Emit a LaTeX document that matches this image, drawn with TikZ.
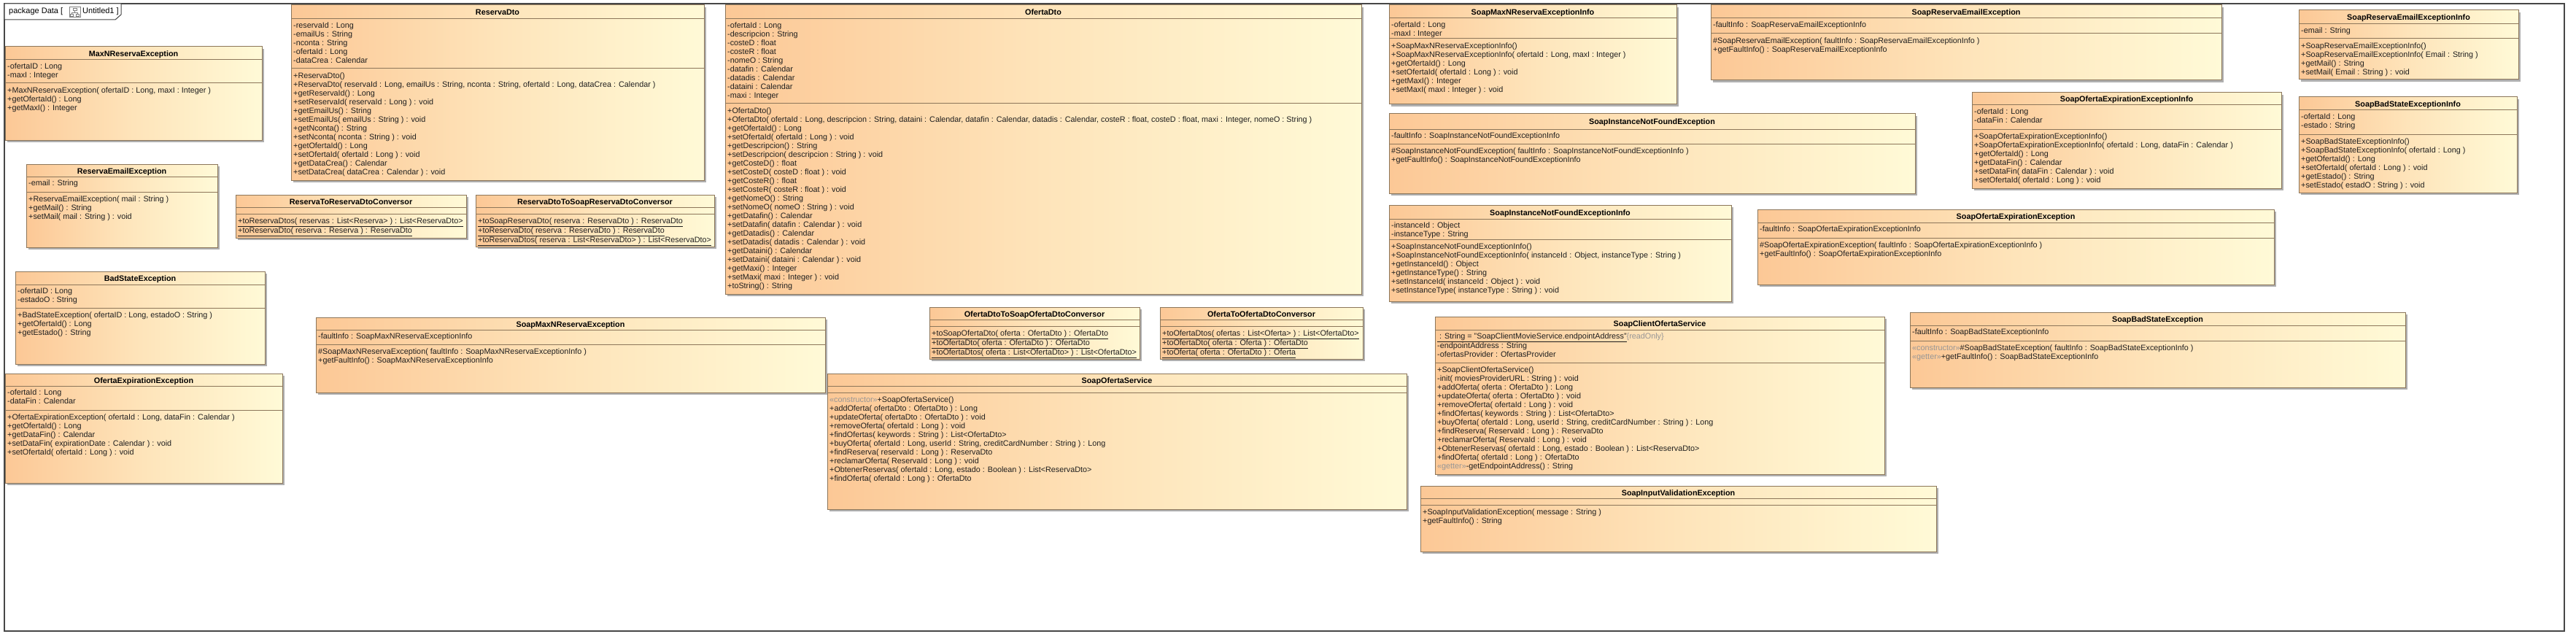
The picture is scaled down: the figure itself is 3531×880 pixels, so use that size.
\documentclass[tikz,border=0pt]{standalone}
\usepackage{fontspec}
\setmainfont{Liberation Sans}
\usetikzlibrary{shadows}
\definecolor{uL}{RGB}{252,200,150}
\definecolor{uM}{RGB}{254,228,186}
\definecolor{uR}{RGB}{255,250,215}
\definecolor{ubord}{RGB}{140,118,90}
\definecolor{utxt}{RGB}{30,30,30}
\definecolor{ustereo}{RGB}{150,150,150}
\definecolor{ushadow}{RGB}{175,175,175}
\definecolor{uframe}{RGB}{70,70,70}
\newcommand\st[1]{\textcolor{ustereo}{#1}}
\newcommand\ls{\rule{0pt}{9pt}}
\tikzset{
 ubox/.style={draw=ubord, line width=1pt, left color=uL, right color=uR, middle color=uM, inner sep=0pt,
   drop shadow={shadow xshift=3pt, shadow yshift=-3pt, fill=ushadow, opacity=1}},
 udiv/.style={draw=ubord, line width=1pt},
 utitle/.style={font=\fontsize{10.8}{12}\selectfont\bfseries, text=black, inner sep=0pt, text height=8pt, text depth=0pt},
 utext/.style={anchor=north west, align=left, inner sep=0pt, font=\fontsize{10.8}{12}\selectfont, text=utxt},
 ptext/.style={anchor=base west, inner sep=0pt, font=\fontsize{11}{13}\selectfont, text=black},
}
\newcommand\uclass[9]{%
 \node[ubox, minimum width={#4-#2}, minimum height={#5-#3}] (#1) at ({(#2+#4)/2},{(#3+#5)/2}) {};
 \draw[udiv] (#2,#6) -- (#4,#6) (#2,#7) -- (#4,#7);
 \node[utitle] (#1-t) at ({(#2+#4)/2},{(#3+#6)/2+0.5}) {#8};
 \node[utext] (#1-a) at (#2+3,#6+3) {\ls#9};
 \coordinate (#1-oc) at (#2+3,#7+4);
}
\newcommand\uops[2]{\node[utext] (#1-o) at (#1-oc) {\ls#2};}
\begin{document}
\begin{tikzpicture}[x=1pt,y=-1pt]
\fill[white] (0,0) rectangle (3531,880);
\useasboundingbox (0,0) rectangle (3531,880);
% frame and package tab
\draw[uframe, line width=1.5pt] (6,5) rectangle (3515,865);
\draw[uframe, line width=1pt, fill=white] (6,5) -- (166,5) -- (166,20) -- (158,27) -- (6,27) -- cycle;
\node[ptext] (pkgA) at (12,18.5) {package Data [};
\node[draw=gray, fill=white, line width=0.6pt, minimum width=15pt, minimum height=14pt, inner sep=0pt] (pkgI) at (102.5,16.5) {};
\draw[gray, line width=0.6pt] (100,11) rectangle (105,14) (96,19) rectangle (100,22) (104,19) rectangle (108,22)
  (102.5,14) -- (102.5,17) -- (98,17) -- (98,19) (102.5,17) -- (106,17) -- (106,19);
\node[ptext] (pkgB) at (113,18.5) {Untitled1 ]};

\uclass{maxn}{7}{64}{359}{192}{82}{114}{MaxNReservaException}{-ofertaID : Long\\-maxI : Integer}
\uops{maxn}{+MaxNReservaException( ofertaID : Long, maxI : Integer )\\+getOfertaId() : Long\\+getMaxI() : Integer}

\uclass{remail}{36}{225}{298}{339}{242}{263}{ReservaEmailException}{-email : String}
\uops{remail}{+ReservaEmailException( mail : String )\\+getMail() : String\\+setMail( mail : String ) : void}

\uclass{bads}{21}{372}{363}{499}{390}{422}{BadStateException}{-ofertaID : Long\\-estadoO : String}
\uops{bads}{+BadStateException( ofertaID : Long, estadoO : String )\\+getOfertaId() : Long\\+getEstado() : String}

\uclass{ofexp}{7}{512}{387}{662}{529}{562}{OfertaExpirationException}{-ofertaId : Long\\-dataFin : Calendar}
\uops{ofexp}{+OfertaExpirationException( ofertaId : Long, dataFin : Calendar )\\+getOfertaId() : Long\\+getDataFin() : Calendar\\+setDataFin( expirationDate : Calendar ) : void\\+setOfertaId( ofertaId : Long ) : void}

\uclass{rdto}{399}{7}{965}{247}{26}{94}{ReservaDto}{-reservaId : Long\\-emailUs : String\\-nconta : String\\-ofertaId : Long\\-dataCrea : Calendar}
\uops{rdto}{+ReservaDto()\\+ReservaDto( reservaId : Long, emailUs : String, nconta : String, ofertaId : Long, dataCrea : Calendar )\\+getReservaId() : Long\\+setReservaId( reservaId : Long ) : void\\+getEmailUs() : String\\+setEmailUs( emailUs : String ) : void\\+getNconta() : String\\+setNconta( nconta : String ) : void\\+getOfertaId() : Long\\+setOfertaId( ofertaId : Long ) : void\\+getDataCrea() : Calendar\\+setDataCrea( dataCrea : Calendar ) : void}

\uclass{r2rd}{323}{267}{639}{326}{284}{293}{ReservaToReservaDtoConversor}{}
\uops{r2rd}{\underline{+toReservaDtos( reservas : List<Reserva> ) : List<ReservaDto>}\\\underline{+toReservaDto( reserva : Reserva ) : ReservaDto}}

\uclass{rd2s}{652}{267}{979}{338}{284}{293}{ReservaDtoToSoapReservaDtoConversor}{}
\uops{rd2s}{\underline{+toSoapReservaDto( reserva : ReservaDto ) : ReservaDto}\\\underline{+toReservaDto( reserva : ReservaDto ) : ReservaDto}\\\underline{+toReservaDtos( reserva : List<ReservaDto> ) : List<ReservaDto>}}

\uclass{smaxn}{433}{435}{1131}{538}{452}{472}{SoapMaxNReservaException}{-faultInfo : SoapMaxNReservaExceptionInfo}
\uops{smaxn}{\#SoapMaxNReservaException( faultInfo : SoapMaxNReservaExceptionInfo )\\+getFaultInfo() : SoapMaxNReservaExceptionInfo}

\uclass{odto}{994}{7}{1866}{403}{26}{142}{OfertaDto}{-ofertaId : Long\\-descripcion : String\\-costeD : float\\-costeR : float\\-nomeO : String\\-datafin : Calendar\\-datadis : Calendar\\-dataini : Calendar\\-maxi : Integer}
\uops{odto}{+OfertaDto()\\+OfertaDto( ofertaId : Long, descripcion : String, dataini : Calendar, datafin : Calendar, datadis : Calendar, costeR : float, costeD : float, maxi : Integer, nomeO : String )\\+getOfertaId() : Long\\+setOfertaId( ofertaId : Long ) : void\\+getDescripcion() : String\\+setDescripcion( descripcion : String ) : void\\+getCosteD() : float\\+setCosteD( costeD : float ) : void\\+getCosteR() : float\\+setCosteR( costeR : float ) : void\\+getNomeO() : String\\+setNomeO( nomeO : String ) : void\\+getDatafin() : Calendar\\+setDatafin( datafin : Calendar ) : void\\+getDatadis() : Calendar\\+setDatadis( datadis : Calendar ) : void\\+getDataini() : Calendar\\+setDataini( dataini : Calendar ) : void\\+getMaxi() : Integer\\+setMaxi( maxi : Integer ) : void\\+toString() : String}

\uclass{od2s}{1274}{421}{1562}{492}{438}{447}{OfertaDtoToSoapOfertaDtoConversor}{}
\uops{od2s}{\underline{+toSoapOfertaDto( oferta : OfertaDto ) : OfertaDto}\\\underline{+toOfertaDto( oferta : OfertaDto ) : OfertaDto}\\\underline{+toOfertaDtos( oferta : List<OfertaDto> ) : List<OfertaDto>}}

\uclass{o2od}{1590}{421}{1868}{492}{438}{447}{OfertaToOfertaDtoConversor}{}
\uops{o2od}{\underline{+toOfertaDtos( ofertas : List<Oferta> ) : List<OfertaDto>}\\\underline{+toOfertaDto( oferta : Oferta ) : OfertaDto}\\\underline{+toOferta( oferta : OfertaDto ) : Oferta}}

\uclass{sos}{1134}{512}{1928}{698}{529}{538}{SoapOfertaService}{}
\uops{sos}{\st{«constructor»}+SoapOfertaService()\\+addOferta( ofertaDto : OfertaDto ) : Long\\+updateOferta( ofertaDto : OfertaDto ) : void\\+removeOferta( ofertaId : Long ) : void\\+findOfertas( keywords : String ) : List<OfertaDto>\\+buyOferta( ofertaId : Long, userId : String, creditCardNumber : String ) : Long\\+findReserva( reservaId : Long ) : ReservaDto\\+reclamarOferta( ReservaId : Long ) : void\\+ObtenerReservas( ofertaId : Long, estado : Boolean ) : List<ReservaDto>\\+findOferta( ofertaId : Long ) : OfertaDto}

\uclass{smaxni}{1904}{7}{2298}{143}{25}{53}{SoapMaxNReservaExceptionInfo}{-ofertaId : Long\\-maxI : Integer}
\uops{smaxni}{+SoapMaxNReservaExceptionInfo()\\+SoapMaxNReservaExceptionInfo( ofertaId : Long, maxI : Integer )\\+getOfertaId() : Long\\+setOfertaId( ofertaId : Long ) : void\\+getMaxI() : Integer\\+setMaxI( maxI : Integer ) : void}

\uclass{sinf}{1904}{156}{2625}{265}{177}{197}{SoapInstanceNotFoundException}{-faultInfo : SoapInstanceNotFoundExceptionInfo}
\uops{sinf}{\#SoapInstanceNotFoundException( faultInfo : SoapInstanceNotFoundExceptionInfo )\\+getFaultInfo() : SoapInstanceNotFoundExceptionInfo}

\uclass{sinfi}{1904}{281}{2373}{413}{300}{328}{SoapInstanceNotFoundExceptionInfo}{-instanceId : Object\\-instanceType : String}
\uops{sinfi}{+SoapInstanceNotFoundExceptionInfo()\\+SoapInstanceNotFoundExceptionInfo( instanceId : Object, instanceType : String )\\+getInstanceId() : Object\\+getInstanceType() : String\\+setInstanceId( instanceId : Object ) : void\\+setInstanceType( instanceType : String ) : void}

\uclass{sremail}{2345}{7}{3045}{110}{25}{46}{SoapReservaEmailException}{-faultInfo : SoapReservaEmailExceptionInfo}
\uops{sremail}{\#SoapReservaEmailException( faultInfo : SoapReservaEmailExceptionInfo )\\+getFaultInfo() : SoapReservaEmailExceptionInfo}

\uclass{soexpi}{2703}{127}{3127}{258}{144}{177}{SoapOfertaExpirationExceptionInfo}{-ofertaId : Long\\-dataFin : Calendar}
\uops{soexpi}{+SoapOfertaExpirationExceptionInfo()\\+SoapOfertaExpirationExceptionInfo( ofertaId : Long, dataFin : Calendar )\\+getOfertaId() : Long\\+getDataFin() : Calendar\\+setDataFin( dataFin : Calendar ) : void\\+setOfertaId( ofertaId : Long ) : void}

\uclass{soexp}{2409}{287}{3117}{390}{305}{326}{SoapOfertaExpirationException}{-faultInfo : SoapOfertaExpirationExceptionInfo}
\uops{soexp}{\#SoapOfertaExpirationException( faultInfo : SoapOfertaExpirationExceptionInfo )\\+getFaultInfo() : SoapOfertaExpirationExceptionInfo}

\uclass{scos}{1967}{434}{2583}{650}{452}{497}{SoapClientOfertaService}{\underline{ : String = "SoapClientMovieService.endpointAddress"}\st{\{readOnly\}}\\-endpointAddress : String\\-ofertasProvider : OfertasProvider}
\uops{scos}{+SoapClientOfertaService()\\-init( moviesProviderURL : String ) : void\\+addOferta( oferta : OfertaDto ) : Long\\+updateOferta( oferta : OfertaDto ) : void\\+removeOferta( ofertaId : Long ) : void\\+findOfertas( keywords : String ) : List<OfertaDto>\\+buyOferta( ofertaId : Long, userId : String, creditCardNumber : String ) : Long\\+findReserva( ReservaId : Long ) : ReservaDto\\+reclamarOferta( ReservaId : Long ) : void\\+ObtenerReservas( ofertaId : Long, estado : Boolean ) : List<ReservaDto>\\+findOferta( ofertaId : Long ) : OfertaDto\\\st{«getter»}-getEndpointAddress() : String}

\uclass{siv}{1947}{666}{2654}{756}{683}{692}{SoapInputValidationException}{}
\uops{siv}{+SoapInputValidationException( message : String )\\+getFaultInfo() : String}

\uclass{sremaili}{3151}{14}{3452}{109}{33}{53}{SoapReservaEmailExceptionInfo}{-email : String}
\uops{sremaili}{+SoapReservaEmailExceptionInfo()\\+SoapReservaEmailExceptionInfo( Email : String )\\+getMail() : String\\+setMail( Email : String ) : void}

\uclass{sbadi}{3151}{133}{3450}{264}{151}{184}{SoapBadStateExceptionInfo}{-ofertaId : Long\\-estado : String}
\uops{sbadi}{+SoapBadStateExceptionInfo()\\+SoapBadStateExceptionInfo( ofertaId : Long )\\+getOfertaId() : Long\\+setOfertaId( ofertaId : Long ) : void\\+getEstado() : String\\+setEstado( estadO : String ) : void}

\uclass{sbad}{2618}{428}{3297}{531}{446}{467}{SoapBadStateException}{-faultInfo : SoapBadStateExceptionInfo}
\uops{sbad}{\st{«constructor»}\#SoapBadStateException( faultInfo : SoapBadStateExceptionInfo )\\\st{«getter»}+getFaultInfo() : SoapBadStateExceptionInfo}
\end{tikzpicture}
\end{document}
